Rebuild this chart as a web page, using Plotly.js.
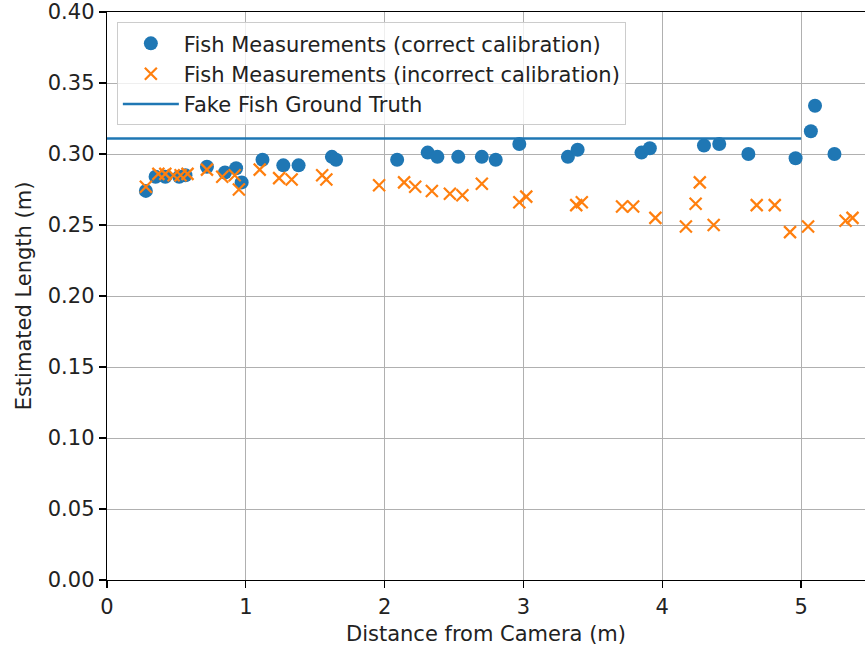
<!DOCTYPE html>
<html>
<head>
<meta charset="utf-8">
<script src="https://cdn.plot.ly/plotly-3.0.1.min.js"></script>
<style>html,body{margin:0;padding:0;background:#fff;}#chart{width:865px;height:649px;}</style>
</head>
<body>
<div id="chart"></div>
<script>
const correctX = [0.28, 0.35, 0.42, 0.52, 0.565, 0.72, 0.85, 0.93, 0.97, 1.12, 1.27, 1.38, 1.62, 1.65, 2.09, 2.31, 2.38, 2.53, 2.70, 2.80, 2.97, 3.32, 3.39, 3.85, 3.91, 4.30, 4.41, 4.62, 4.96, 5.07, 5.10, 5.24];
const correctY = [0.274, 0.284, 0.284, 0.284, 0.285, 0.291, 0.287, 0.290, 0.280, 0.296, 0.292, 0.292, 0.298, 0.296, 0.296, 0.301, 0.298, 0.298, 0.298, 0.296, 0.307, 0.298, 0.303, 0.301, 0.304, 0.306, 0.307, 0.300, 0.297, 0.316, 0.334, 0.300];
const incorrectX = [0.28, 0.37, 0.42, 0.48, 0.53, 0.58, 0.72, 0.83, 0.92, 0.95, 1.10, 1.24, 1.33, 1.55, 1.58, 1.96, 2.14, 2.22, 2.34, 2.47, 2.56, 2.70, 2.97, 3.02, 3.38, 3.42, 3.71, 3.79, 3.95, 4.17, 4.24, 4.27, 4.37, 4.68, 4.81, 4.92, 5.05, 5.32, 5.37];
const incorrectY = [0.277, 0.286, 0.286, 0.285, 0.285, 0.286, 0.289, 0.284, 0.285, 0.275, 0.289, 0.283, 0.282, 0.285, 0.282, 0.278, 0.280, 0.277, 0.274, 0.272, 0.271, 0.279, 0.266, 0.270, 0.264, 0.266, 0.263, 0.263, 0.255, 0.249, 0.265, 0.280, 0.250, 0.264, 0.264, 0.245, 0.249, 0.253, 0.255];
const truthX = [0, 5];
const truthY = [0.311, 0.311];
const seriesNames = ['Fish Measurements (correct calibration)', 'Fish Measurements (incorrect calibration)', 'Fake Fish Ground Truth'];
const xTicks = [0, 1, 2, 3, 4, 5];
const yTicks = [0, 0.05, 0.10, 0.15, 0.20, 0.25, 0.30, 0.35, 0.40];

const font = 'DejaVu Sans, sans-serif';
const fs = 21;
const traces = [
  {x: correctX, y: correctY, type: 'scatter', mode: 'markers', name: seriesNames[0], legendgroup: 'a',
   marker: {color: '#1f77b4', size: 14, line: {width: 0}}},
  {x: incorrectX, y: incorrectY, type: 'scatter', mode: 'markers', name: seriesNames[1], legendgroup: 'b',
   marker: {color: '#ff7f0e', symbol: 'x-thin', size: 12, line: {color: '#ff7f0e', width: 2.2}}},
  {x: truthX, y: truthY, type: 'scatter', mode: 'lines', name: seriesNames[2], legendgroup: 'c',
   line: {color: '#1f77b4', width: 2.5}}
];
const axisCommon = {
  showline: true, linecolor: '#000', linewidth: 1.3,
  ticks: 'outside', ticklen: 7, tickwidth: 1.3, tickcolor: '#000',
  showgrid: true, gridcolor: '#b0b0b0', gridwidth: 1,
  zeroline: false, tickfont: {family: font, size: fs, color: '#222'}
};
const layout = {
  width: 865, height: 649,
  margin: {l: 107, r: 0, t: 12, b: 69},
  paper_bgcolor: '#fff', plot_bgcolor: '#fff',
  font: {family: font, color: '#222'},
  showlegend: true,
  legend: {x: 0.013, y: 0.982, xanchor: 'left', yanchor: 'top',
    bgcolor: 'rgba(255,255,255,0.8)', bordercolor: '#cccccc', borderwidth: 1,
    itemwidth: 56,
    font: {family: font, size: fs, color: '#222'}, tracegroupgap: 4, traceorder: 'normal'},
  xaxis: Object.assign({}, axisCommon, {range: [0, 5.46], tickvals: xTicks, mirror: true,
    title: {text: 'Distance from Camera (m)', font: {family: font, size: fs, color: '#222'}, standoff: 8}}),
  yaxis: Object.assign({}, axisCommon, {range: [0, 0.40], tickvals: yTicks, tickformat: '.2f',
    title: {text: 'Estimated Length (m)', font: {family: font, size: fs, color: '#222'}, standoff: 10}})
};
Plotly.newPlot('chart', traces, layout, {displayModeBar: false, staticPlot: true});
</script>
</body>
</html>
